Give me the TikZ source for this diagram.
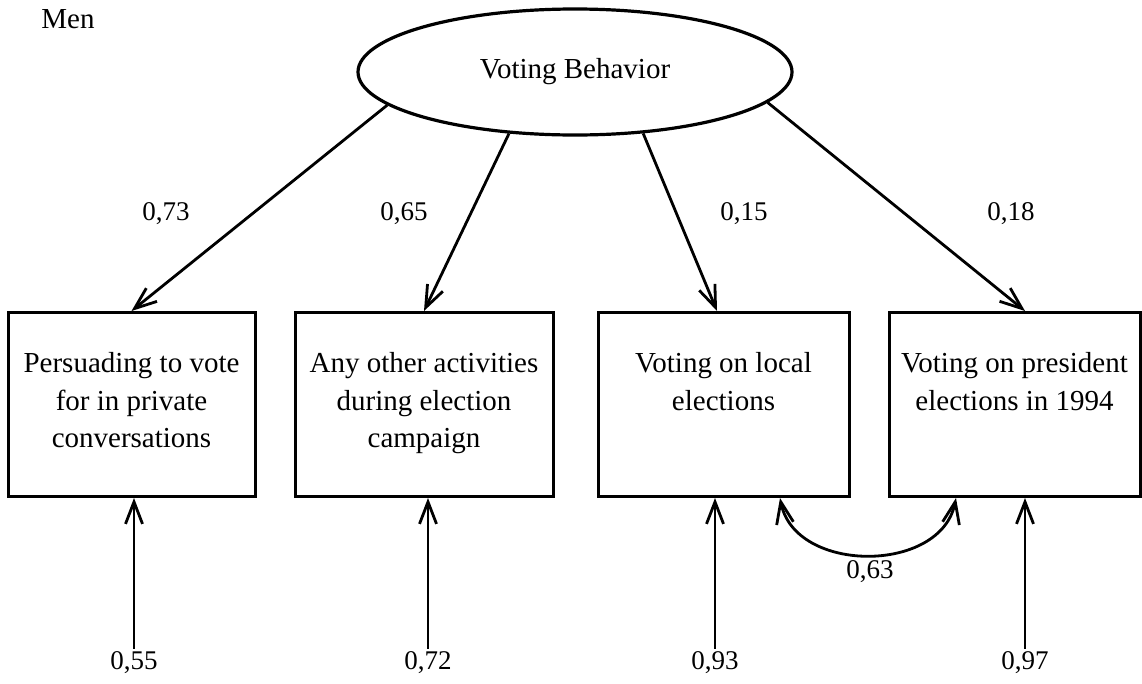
\documentclass[tikz,border=0pt]{standalone}
\usepackage{fontspec}
\setmainfont{Liberation Serif}
\usetikzlibrary{shapes,arrows.meta}

\newcommand{\boxlines}[2]{\parbox[t][184pt][t]{#1}{\centering\rule{0pt}{60pt}#2}}

\begin{document}
\begin{tikzpicture}[x=1pt, y=-1pt, >={Straight Barb[length=22pt, width=17pt]}, font=\fontsize{29}{37.5}\selectfont]
\tikzstyle{vertexe}=[ellipse, draw, line width=3.2pt, minimum width=434pt, minimum height=126pt, inner sep=0pt]
\tikzstyle{vertexr}=[rectangle, draw, line width=3pt, inner sep=0pt, anchor=north]
\tikzstyle{numstyle}=[inner sep=3pt, font=\fontsize{27}{30}\selectfont]
\tikzstyle{drawstyle}=[line width=2.8pt, ->]

\useasboundingbox (0,0) rectangle (1142,683);

\node (Men) at (68,19) {Men};
\node[vertexe] (L0) at (575,72) {Voting Behavior};

\node[vertexr] (I1) at (131.5,311) {\boxlines{247pt}{Persuading to vote\\for in private\\conversations}};
\node[vertexr] (I2) at (424,311) {\boxlines{258pt}{Any other activities\\during election\\campaign}};
\node[vertexr] (I3) at (723.5,311) {\boxlines{251pt}{Voting on local\\elections}};
\node[vertexr] (I4) at (1014.5,311) {\boxlines{251pt}{Voting on president\\elections in 1994}};

\draw[drawstyle] (L0.190) -- (I1.north);
\draw[drawstyle] (L0.223) -- (I2.north);
\draw[drawstyle] (L0.318) -- ([xshift=-6.5pt]I3.north);
\draw[drawstyle] (L0.351) -- ([xshift=10.5pt]I4.north);

\node[numstyle] (P1) at (166,214) {0,73};
\node[numstyle] (P2) at (404,214) {0,65};
\node[numstyle] (P3) at (744,214) {0,15};
\node[numstyle] (P4) at (1011,214) {0,18};

\node[numstyle] (E1) at (134,663) {0,55};
\node[numstyle] (E2) at (428,663) {0,72};
\node[numstyle] (E3) at (715,663) {0,93};
\node[numstyle] (E4) at (1025,663) {0,97};
\draw[drawstyle] (E1) -- (E1 |- I1.south);
\draw[drawstyle] (E2) -- (E2 |- I2.south);
\draw[drawstyle] (E3) -- (E3 |- I3.south);
\draw[drawstyle] (E4) -- (E4 |- I4.south);

\draw[line width=2.8pt, <->] ([xshift=56.5pt]I3.south) .. controls +(15,76) and +(-15,76) .. ([xshift=-58.5pt]I4.south);
\node[numstyle] (R34) at (870,572) {0,63};
\end{tikzpicture}
\end{document}
